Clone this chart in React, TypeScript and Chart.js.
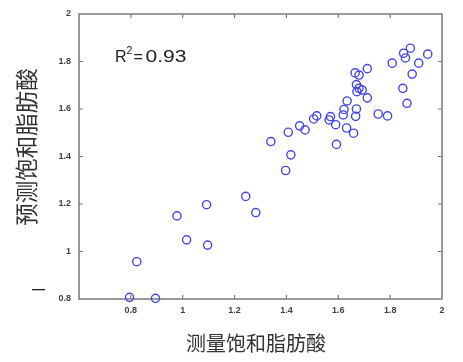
import React, { useEffect, useRef } from 'react';
import { Chart, registerables } from 'chart.js';

Chart.register(...registerables);

// measured saturated fatty acid (x) vs predicted (y)
const measured = [
  0.795, 0.895, 0.823, 0.978, 1.015, 1.092, 1.096, 1.243, 1.282, 1.397,
  1.417, 1.340, 1.407, 1.451, 1.472, 1.517, 1.505, 1.570, 1.565, 1.590,
  1.632, 1.659, 1.593, 1.619, 1.622, 1.667, 1.670, 1.634, 1.712, 1.670,
  1.680, 1.692, 1.672, 1.665, 1.680, 1.712, 1.754, 1.790, 1.808, 1.849,
  1.865, 1.885, 1.852, 1.859, 1.878, 1.910, 1.945,
];
const predicted = [
  0.807, 0.803, 0.957, 1.150, 1.049, 1.197, 1.027, 1.232, 1.164, 1.341,
  1.407, 1.463, 1.502, 1.529, 1.512, 1.571, 1.558, 1.568, 1.554, 1.534,
  1.520, 1.498, 1.451, 1.575, 1.598, 1.569, 1.600, 1.634, 1.647, 1.703,
  1.687, 1.680, 1.673, 1.752, 1.743, 1.770, 1.579, 1.571, 1.793, 1.687,
  1.624, 1.747, 1.835, 1.815, 1.856, 1.793, 1.831,
];

const xMin = 0.6;
const xMax = 2;
const yMin = 0.8;
const yMax = 2;
const tickStep = 0.2;

const xTitle = '测量饱和脂肪酸';
const yTitle = '预测饱和脂肪酸';
const r2Label = '0.93';

const AXIS_COLOR = '#7a7a7a';
const CJK = '"Noto Sans CJK SC", "Noto Sans", sans-serif';
const LAT = '"Liberation Sans", Arial, sans-serif';

const fmt = (v: number) => String(Math.round(v * 10) / 10);

const decorPlugin = {
  id: 'decor',
  beforeDatasetsDraw(chart: any) {
    const { ctx, chartArea } = chart;
    const { left, right, top, bottom } = chartArea;
    ctx.save();
    ctx.strokeStyle = AXIS_COLOR;
    ctx.lineWidth = 1.5;
    ctx.strokeRect(left, top, right - left, bottom - top);
    // inward tick marks
    ctx.lineWidth = 1.2;
    const xs = chart.scales.x;
    const ys = chart.scales.y;
    ctx.beginPath();
    xs.ticks.forEach((t: any) => {
      const px = xs.getPixelForValue(t.value);
      if (px <= left + 1 || px >= right - 1) return;
      ctx.moveTo(px, bottom);
      ctx.lineTo(px, bottom - 4);
      ctx.moveTo(px, top);
      ctx.lineTo(px, top + 4);
    });
    ys.ticks.forEach((t: any) => {
      const py = ys.getPixelForValue(t.value);
      if (py <= top + 1 || py >= bottom - 1) return;
      ctx.moveTo(left, py);
      ctx.lineTo(left + 4, py);
      ctx.moveTo(right, py);
      ctx.lineTo(right - 4, py);
    });
    ctx.stroke();
    ctx.restore();
  },
  afterDraw(chart: any) {
    const { ctx } = chart;
    ctx.save();
    ctx.setTransform(1, 0, 0, 1, 0, 0);
    ctx.fillStyle = '#222';
    // R² annotation
    ctx.textBaseline = 'alphabetic';
    ctx.textAlign = 'left';
    ctx.font = `16px ${LAT}`;
    ctx.fillText('R', 115, 61.5);
    ctx.font = `10.5px ${LAT}`;
    ctx.fillText('2', 126.5, 53.5);
    ctx.font = `16px ${LAT}`;
    ctx.fillText('=', 133.5, 61.5);
    const w = ctx.measureText(r2Label).width;
    ctx.save();
    ctx.translate(145.5, 61.5);
    ctx.scale(41 / w, 1);
    ctx.fillText(r2Label, 0, 0);
    ctx.restore();

    // axis titles
    ctx.fillStyle = '#333';
    ctx.textAlign = 'center';
    ctx.textBaseline = 'middle';
    ctx.font = `20px ${CJK}`;
    ctx.fillText(xTitle, 256, 343);
    ctx.save();
    ctx.translate(26, 147);
    ctx.rotate(-Math.PI / 2);
    ctx.font = `22.5px ${CJK}`;
    ctx.fillText(yTitle, 0, 0);
    ctx.restore();

    // stray short horizontal dash at the left
    ctx.setTransform(1, 0, 0, 1, 0, 0);
    ctx.fillStyle = '#222';
    ctx.fillRect(32, 289, 13, 1.3);
    ctx.restore();
  },
};

export default function App() {
  const ref = useRef<HTMLCanvasElement | null>(null);

  useEffect(() => {
    if (!ref.current) return;
    const points = measured.map((x, i) => ({ x, y: predicted[i] }));
    const chart = new Chart(ref.current, {
      type: 'scatter',
      data: {
        datasets: [
          {
            data: points,
            pointStyle: 'circle',
            pointRadius: 4.1,
            pointBorderWidth: 1.4,
            borderColor: '#4646e4',
            backgroundColor: 'rgba(0,0,0,0)',
            clip: false as any,
          },
        ],
      },
      options: {
        responsive: false,
        animation: false,
        layout: { padding: { top: 14, right: 21, left: 0, bottom: 0 } },
        plugins: {
          legend: { display: false },
          tooltip: { enabled: false },
        },
        scales: {
          x: {
            type: 'linear',
            min: xMin,
            max: xMax,
            grid: { display: false, drawTicks: false },
            border: { display: false },
            ticks: {
              stepSize: tickStep,
              padding: 6,
              color: '#444',
              font: { family: LAT, size: 9, weight: 'bold' },
              maxRotation: 0,
              autoSkip: false,
              callback: (v: any) => (Math.abs(v - xMin) < 1e-6 ? '' : fmt(v)),
            },
            afterFit: (s: any) => {
              s.height = 63;
            },
          },
          y: {
            type: 'linear',
            min: yMin,
            max: yMax,
            grid: { display: false, drawTicks: false },
            border: { display: false },
            ticks: {
              stepSize: tickStep,
              padding: 8,
              color: '#444',
              font: { family: LAT, size: 9, weight: 'bold' },
              autoSkip: false,
              callback: (v: any) => fmt(v),
            },
            afterFit: (s: any) => {
              s.width = 79;
            },
          },
        },
      },
      plugins: [decorPlugin],
    });
    return () => chart.destroy();
  }, []);

  return (
    <div style={{ position: 'absolute', left: 0, top: 0, width: 463, height: 362, background: '#fff' }}>
      <canvas ref={ref} width={463} height={362} style={{ display: 'block', width: 463, height: 362 }} />
    </div>
  );
}
